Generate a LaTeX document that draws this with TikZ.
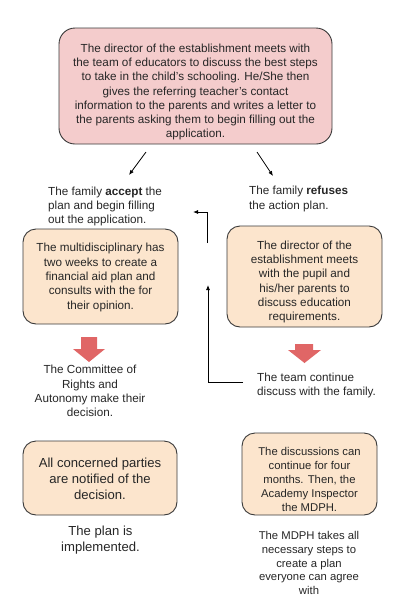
\documentclass[tikz,border=0pt]{standalone}
\usepackage{fontspec}
\setmainfont{Liberation Sans}
\usetikzlibrary{arrows.meta}
\definecolor{pinkfill}{HTML}{F4CCCC}
\definecolor{peach}{HTML}{FCE5CD}
\definecolor{redarrow}{HTML}{E06666}
\definecolor{edge}{HTML}{3A3A3A}
\begin{document}
\begin{tikzpicture}[x=1pt,y=-1pt,
  box/.style={draw=edge, line width=0.9pt, rounded corners=13pt, inner sep=0pt},
  txt/.style={align=center, inner sep=0pt, text=black!85, font=\fontsize{11.7}{14.3}\selectfont},
  smalltxt/.style={txt, font=\fontsize{11.3}{13.9}\selectfont},
  bigtxt/.style={txt, font=\fontsize{13.1}{16}\selectfont},
  con/.style={line width=0.8pt, -{Latex[length=5pt,width=4pt]}},
  blockarrow/.style={fill=redarrow}]
\useasboundingbox (0,0) rectangle (416,600);

% top box
\node[box, fill=pinkfill, minimum width=273pt, minimum height=116pt, rounded corners=16pt] (topbox) at (195.5,86) {};
\node[txt] (toptext) at (195.5,92) {The director of the establishment meets with\\the team of educators to discuss the best steps\\to take in the child's schooling. He/She then\\gives the referring teacher's contact\\information to the parents and writes a letter to\\the parents asking them to begin filling out the\\application.};

% branch labels
\node[txt, align=left, anchor=west] (accept) at (48,206.5) {The family \textbf{accept} the\\plan and begin filling\\out the application.};
\node[txt, align=left, anchor=west] (refuse) at (249,199) {The family \textbf{refuses}\\the action plan.};

% orange boxes
\node[box, fill=peach, minimum width=155pt, minimum height=95pt] (multibox) at (100.5,276.5) {};
\node[txt] (multitext) at (100.5,277.5) {The multidisciplinary has\\two weeks to create a\\financial aid plan and\\consults with the for\\their opinion.};

\node[box, fill=peach, minimum width=155pt, minimum height=101pt] (dirbox) at (304.5,276.5) {};
\node[txt] (dirtext) at (304.5,282) {The director of the\\establishment meets\\with the pupil and\\his/her parents to\\discuss education\\requirements.};

% block arrows
\fill[blockarrow] (81,337) -- (97,337) -- (97,349) -- (105,349) -- (89,362) -- (73,349) -- (81,349) -- cycle;
\fill[blockarrow] (295,344) -- (313,344) -- (313,350) -- (321,350) -- (304.5,363) -- (288,350) -- (295,350) -- cycle;

\node[txt] (committee) at (90,391) {The Committee of\\Rights and\\Autonomy make their\\decision.};
\node[txt, align=left, anchor=west] (team) at (257,385.5) {The team continue\\discuss with the family.};

% bottom boxes
\node[box, fill=peach, minimum width=154pt, minimum height=74pt] (notifbox) at (100,478) {};
\node[bigtxt] (notiftext) at (100,478.5) {All concerned parties\\are notified of the\\decision.};
\node[bigtxt] (plan) at (100.5,540.5) {The plan is\\implemented.};

\node[box, fill=peach, minimum width=135pt, minimum height=82pt] (discbox) at (309.5,474) {};
\node[smalltxt] (disctext) at (309.5,479.5) {The discussions can\\continue for four\\months. Then, the\\Academy Inspector\\the MDPH.};
\node[smalltxt, font=\fontsize{11.3}{13.7}\selectfont] (mdph) at (309,563) {The MDPH takes all\\necessary steps to\\create a plan\\everyone can agree\\with};

% connectors
\coordinate (a1s) at (146,152); \coordinate (a1e) at (129,175);
\coordinate (a2s) at (257,152); \coordinate (a2e) at (273,176);
\draw[con] (a1s) -- (a1e);
\draw[con] (a2s) -- (a2e);
\coordinate (l1s) at (207,243); \coordinate (l1e) at (193,212);
\draw[con] (l1s) |- (l1e);
\coordinate (l2s) at (243,382); \coordinate (l2e) at (208,285);
\draw[con] (l2s) -| (l2e);
\end{tikzpicture}
\end{document}
